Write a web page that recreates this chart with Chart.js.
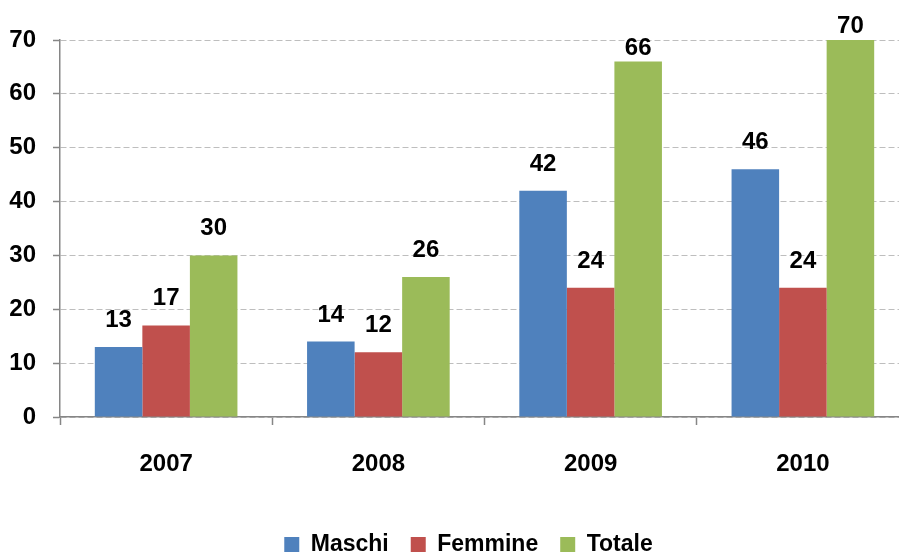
<!DOCTYPE html>
<html>
<head>
<meta charset="utf-8">
<script src="https://cdn.jsdelivr.net/npm/chart.js@4/dist/chart.umd.min.js"></script>
<style>
html,body{margin:0;padding:0;background:#fff;overflow:hidden;}
#wrap{width:899px;height:553px;overflow:hidden;}
</style>
</head>
<body>
<div id="wrap"><canvas id="c" width="910" height="566"></canvas></div>
<script>
const categories = ['2007', '2008', '2009', '2010'];
const maschi = [13, 14, 42, 46];
const femmine = [17, 12, 24, 24];
const totale = [30, 26, 66, 70];
const seriesNames = ['Maschi', 'Femmine', 'Totale'];
const yTicks = [0, 10, 20, 30, 40, 50, 60, 70];

const FONT = '"Liberation Sans", Arial, sans-serif';

const labelPlugin = {
  id: 'barLabels',
  afterLayout(chart) {
    if (chart.legend) {
      chart.legend.left += 14;
      chart.legend.right += 14;
    }
  },
  afterDatasetsDraw(chart) {
    const ctx = chart.ctx;
    const top = chart.chartArea.top;
    ctx.save();
    ctx.font = 'bold 24px ' + FONT;
    ctx.fillStyle = '#000';
    ctx.textAlign = 'center';
    ctx.textBaseline = 'alphabetic';
    chart.data.datasets.forEach((ds, i) => {
      const meta = chart.getDatasetMeta(i);
      meta.data.forEach((el, j) => {
        const gap = (el.y - top) < 30 ? 7 : 20;
        ctx.fillText(String(ds.data[j]), el.x, el.y - gap);
      });
    });
    ctx.restore();
  }
};

new Chart(document.getElementById('c'), {
  type: 'bar',
  data: {
    labels: categories,
    datasets: [
      { label: seriesNames[0], data: maschi, backgroundColor: '#4F81BD' },
      { label: seriesNames[1], data: femmine, backgroundColor: '#C0504D' },
      { label: seriesNames[2], data: totale, backgroundColor: '#9BBB59' }
    ]
  },
  options: {
    responsive: false,
    devicePixelRatio: 1,
    animation: false,
    layout: { padding: { top: 40, right: 1, left: 0, bottom: 0 } },
    datasets: { bar: { categoryPercentage: 0.672, barPercentage: 1.0 } },
    plugins: {
      legend: {
        position: 'bottom',
        labels: {
          font: { family: FONT, size: 23, weight: 'bold' },
          color: '#000',
          boxWidth: 15,
          boxHeight: 15,
          padding: 22
        }
      },
      tooltip: { enabled: false }
    },
    scales: {
      x: {
        grid: {
          offset: true,
          drawOnChartArea: false,
          drawTicks: true,
          tickLength: 8,
          tickColor: '#868686',
          tickWidth: 1.5
        },
        border: { display: true, color: '#868686', width: 1.5 },
        ticks: {
          font: { family: FONT, size: 24, weight: 'bold' },
          color: '#000',
          padding: 25
        },
        afterFit(scale) { scale.height = 94; }
      },
      y: {
        min: 0,
        max: 70,
        afterBuildTicks(scale) { scale.ticks = yTicks.map(v => ({ value: v })); },
        grid: {
          color: '#BEBEBE',
          lineWidth: 1,
          drawTicks: true,
          tickLength: 7,
          tickColor: '#868686',
          tickWidth: 1.5,
          tickBorderDash: []
        },
        border: { display: true, color: '#868686', width: 1.5, dash: [6, 3] },
        ticks: {
          font: { family: FONT, size: 24, weight: 'bold' },
          color: '#000',
          padding: 17
        },
        afterFit(scale) { scale.width = 60; }
      }
    }
  },
  plugins: [labelPlugin]
});
</script>
</body>
</html>
